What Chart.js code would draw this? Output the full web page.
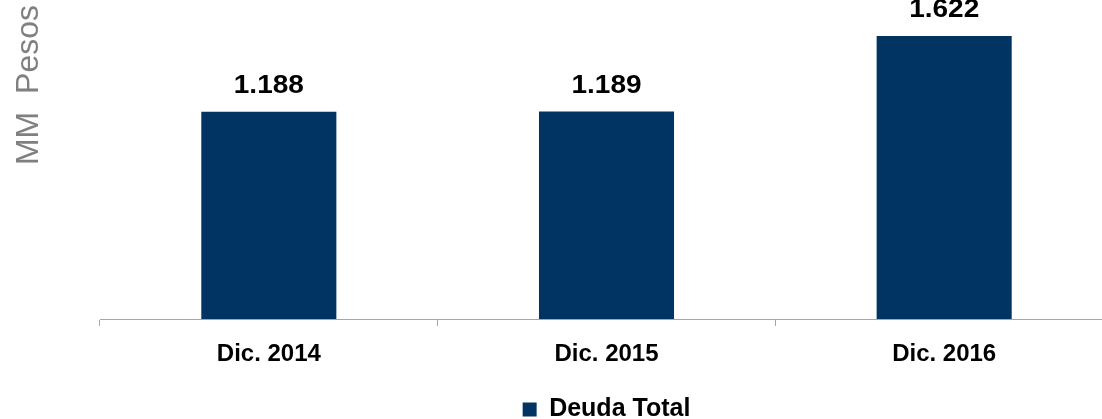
<!DOCTYPE html>
<html>
<head>
<meta charset="utf-8">
<script src="https://cdn.jsdelivr.net/npm/chart.js@4"></script>
<style>
  html, body { margin: 0; padding: 0; background: #ffffff; overflow: hidden; width: 1102px; height: 419px; }
  #c { display: block; }
</style>
</head>
<body>
<canvas id="c" width="1113" height="432"></canvas>
<script>
const categories = ['Dic. 2014', 'Dic. 2015', 'Dic. 2016'];
const deudaTotal = [1188, 1189, 1622];
const seriesName = 'Deuda Total';
const yTitle = 'MM  Pesos';

const FONT = 'Liberation Sans, Arial, sans-serif';
const BAR_COLOR = '#023463';

function fmt(v) {
  const s = String(Math.round(v));
  return s.replace(/\B(?=(\d{3})+(?!\d))/g, '.');
}

const valueLabels = {
  id: 'valueLabels',
  afterDatasetsDraw(chart) {
    const ctx = chart.ctx;
    chart.data.datasets.forEach((ds, di) => {
      const meta = chart.getDatasetMeta(di);
      meta.data.forEach((bar, i) => {
        ctx.save();
        ctx.font = 'bold 25px ' + FONT;
        ctx.fillStyle = '#000000';
        ctx.textAlign = 'center';
        ctx.textBaseline = 'alphabetic';
        ctx.translate(bar.x, bar.y - 19);
        ctx.scale(1.12, 1);
        ctx.fillText(fmt(ds.data[i]), 0, 0);
        ctx.restore();
      });
    });
  }
};

new Chart(document.getElementById('c'), {
  type: 'bar',
  data: {
    labels: categories,
    datasets: [{
      label: seriesName,
      data: deudaTotal,
      backgroundColor: BAR_COLOR,
      borderWidth: 0,
      barPercentage: 0.4,
      categoryPercentage: 1.0
    }]
  },
  options: {
    responsive: false,
    animation: false,
    layout: { padding: { top: 5, left: 0, right: 0, bottom: 0 } },
    plugins: {
      legend: {
        position: 'bottom',
        fullSize: false,
        labels: {
          boxWidth: 14,
          boxHeight: 14,
          padding: 0,
          color: '#000000',
          font: { family: FONT, size: 25, weight: 'bold' }
        }
      },
      tooltip: { enabled: false }
    },
    scales: {
      x: {
        type: 'category',
        grid: {
          display: true,
          drawOnChartArea: false,
          drawTicks: true,
          tickLength: 7,
          color: '#A6A6A6',
          offset: true
        },
        border: { display: true, color: '#A6A6A6', width: 1 },
        ticks: {
          color: '#000000',
          padding: 14,
          font: { family: FONT, size: 24, weight: 'bold' }
        },
        afterFit(scale) { scale.height = 78; }
      },
      y: {
        min: 0,
        max: 1800,
        grid: { display: false },
        border: { display: false },
        ticks: { display: false },
        title: {
          display: true,
          text: yTitle,
          align: 'end',
          color: '#808080',
          padding: { top: 10, bottom: 0 },
          font: { family: FONT, size: 32, weight: 'normal' }
        },
        afterFit(scale) { scale.width = 100; }
      }
    }
  },
  plugins: [valueLabels]
});
</script>
</body>
</html>
